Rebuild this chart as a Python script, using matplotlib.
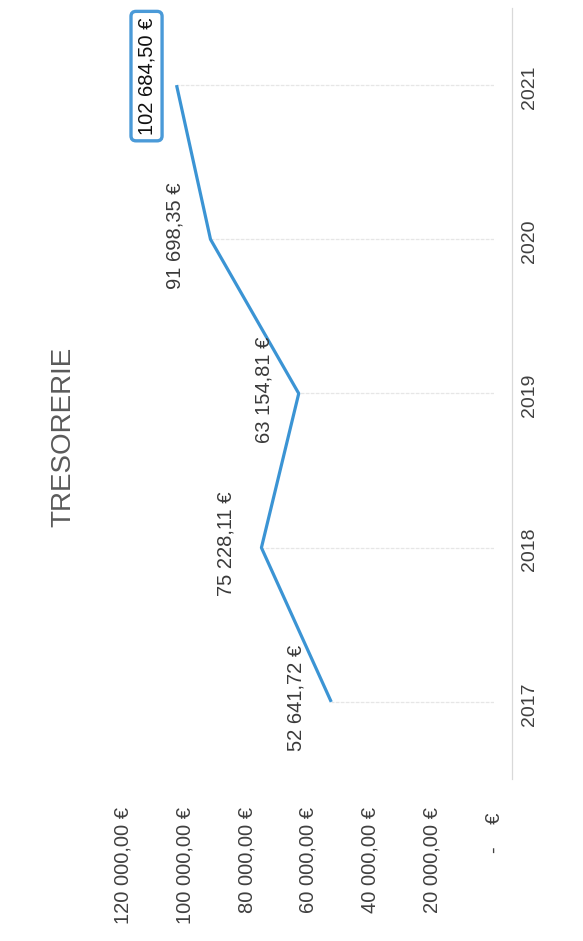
import matplotlib.pyplot as plt

# TRESORERIE - the scanned chart is turned a quarter turn, so years go up and values go left
years = [2017, 2018, 2019, 2020, 2021]
tresorerie = [52641.72, 75228.11, 63154.81, 91698.35, 102684.50]
labels = ['52 641,72 €', '75 228,11 €', '63 154,81 €', '91 698,35 €', '102 684,50 €']
value_ticks = [0, 20000, 40000, 60000, 80000, 100000, 120000]
value_tick_labels = ['-    € ', '20 000,00 €', '40 000,00 €', '60 000,00 €',
                     '80 000,00 €', '100 000,00 €', '120 000,00 €']

plt.rcParams['font.family'] = ['Liberation Sans', 'DejaVu Sans']

W, H = 583, 941
fig = plt.figure(figsize=(W / 100, H / 100), dpi=100)
ax = fig.add_axes([123 / W, (H - 779) / H, (494 - 123) / W, (779 - 8) / H])

blue = '#3b94d4'

# drop lines from each point to the axis
ax.hlines(years, 0, tresorerie, color='#e6e6e6', linewidth=0.9, linestyle=(0, (3, 1)))
ax.plot(tresorerie, years, color=blue, linewidth=2.3, solid_capstyle='butt')

for i in range(len(years)):
    if i == len(years) - 1:
        ax.annotate(labels[i], xy=(tresorerie[i], years[i]), xytext=(-30, 9),
                    textcoords='offset pixels', rotation=90, ha='center', va='center',
                    fontsize=14.5, color='#111111',
                    bbox=dict(boxstyle='round,pad=0.3,rounding_size=0.25', fc='white',
                              ec='#4a9ad8', lw=2.4))
    else:
        ax.annotate(labels[i], xy=(tresorerie[i], years[i]), xytext=(-35, 4),
                    textcoords='offset pixels', rotation=90, ha='center', va='center',
                    fontsize=14.5, color='#3a3a3a')

ax.set_xlim(120000, 0)
ax.set_ylim(2016.5, 2021.5)

ax.set_xticks(value_ticks)
ax.set_xticklabels(value_tick_labels, rotation=90, fontsize=14.5, color='#404040')
ax.tick_params(axis='x', length=0, pad=20)

# year labels on the category axis (right side here)
ax.set_yticks(years)
ax.tick_params(axis='y', length=0, left=False, labelleft=False)
for y in years:
    ax.annotate(str(y), xy=(1, y), xycoords=ax.get_yaxis_transform(), xytext=(27, -2),
                textcoords='offset pixels', rotation=90, ha='left', va='center',
                fontsize=14, color='#404040')

for s in ['top', 'left', 'bottom']:
    ax.spines[s].set_visible(False)
ax.spines['right'].set_position(('outward', 13))
ax.spines['right'].set_color('#d9d9d9')
ax.spines['right'].set_linewidth(0.9)

fig.text(63 / W, 1 - 437 / H, 'TRESORERIE', rotation=90, ha='center', va='center',
         fontsize=20, color='#5a5a5a')

fig.savefig('out.png', dpi=100, facecolor='white')
